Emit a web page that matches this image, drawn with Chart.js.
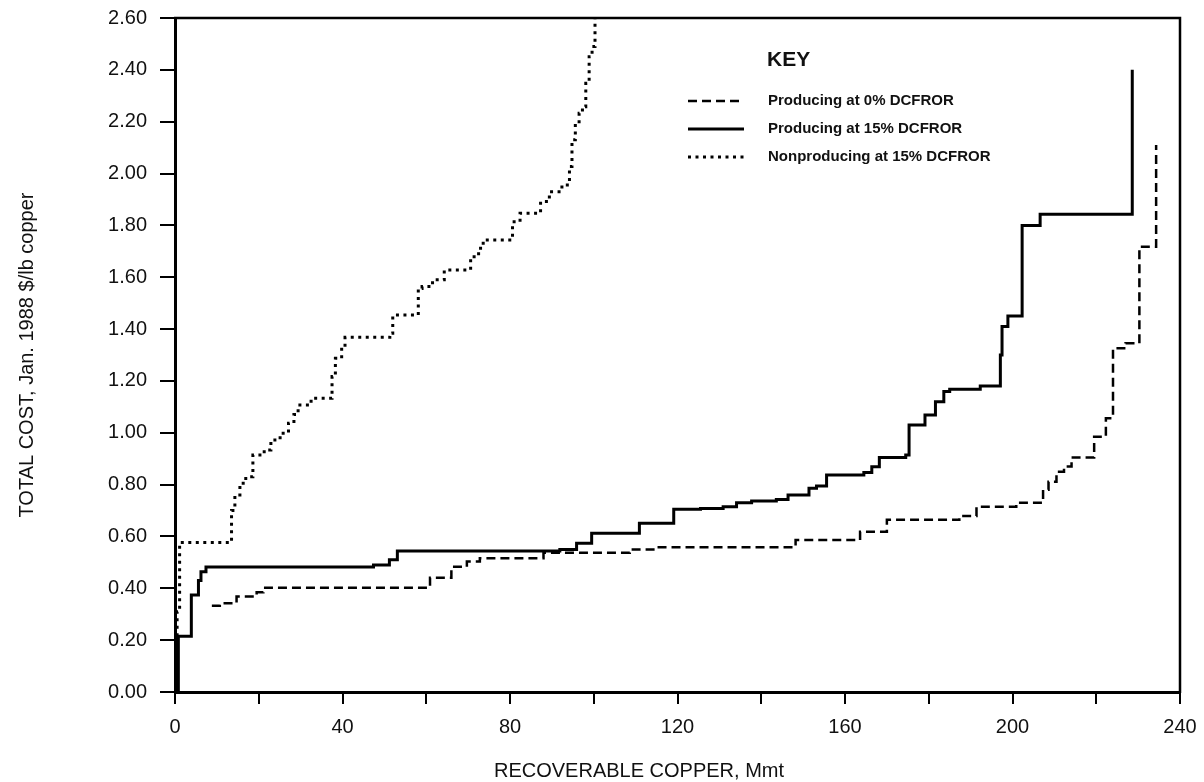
<!DOCTYPE html>
<html>
<head>
<meta charset="utf-8">
<script src="https://cdn.jsdelivr.net/npm/chart.js@4.4.1/dist/chart.umd.min.js"></script>
<style>
  html, body { margin: 0; padding: 0; background: #fff; }
  #wrap { width: 1204px; height: 782px; }
</style>
</head>
<body>
<div id="wrap"><canvas id="c" width="1204" height="782"></canvas></div>
<script>
// ---- data (x = recoverable copper, Mmt; y = total cost, $/lb) ----
const seriesLabels = [
  "Producing at 0% DCFROR",
  "Producing at 15% DCFROR",
  "Nonproducing at 15% DCFROR"
];

const prod0X = [8.8, 10.7, 14.7, 19.5, 21.1, 60.9, 66.0, 69.7, 72.8, 88.0, 108.6, 115.0, 148.2, 163.6, 170.0, 187.3, 191.4, 200.9, 207.3, 208.6, 210.5, 212.3, 214.1, 219.5, 222.3, 224.0, 227.0, 230.3, 234.3];
const prod0Y = [0.333, 0.342, 0.368, 0.385, 0.402, 0.441, 0.483, 0.503, 0.516, 0.537, 0.550, 0.558, 0.586, 0.618, 0.664, 0.679, 0.715, 0.730, 0.780, 0.811, 0.850, 0.870, 0.905, 0.985, 1.056, 1.326, 1.345, 1.718, 2.110];

const prod15X = [0.8, 0.8, 3.9, 5.6, 6.2, 7.4, 47.4, 51.2, 53.1, 91.9, 95.9, 99.5, 110.9, 119.1, 125.5, 130.9, 134.1, 137.7, 143.6, 146.4, 151.4, 153.2, 155.6, 164.5, 166.4, 168.2, 174.5, 175.3, 179.1, 181.6, 183.6, 185.0, 192.3, 197.1, 197.5, 198.9, 202.3, 206.6, 228.6];
const prod15Y = [0.000, 0.215, 0.374, 0.430, 0.464, 0.482, 0.490, 0.510, 0.544, 0.550, 0.574, 0.612, 0.651, 0.705, 0.708, 0.715, 0.730, 0.737, 0.743, 0.760, 0.786, 0.795, 0.837, 0.847, 0.869, 0.905, 0.914, 1.030, 1.069, 1.120, 1.159, 1.168, 1.180, 1.300, 1.410, 1.450, 1.800, 1.843, 2.400];

const nonprodX = [0.2, 0.5, 1.1, 13.5, 14.3, 15.5, 16.9, 18.6, 21.3, 22.9, 25.1, 27.1, 28.4, 29.4, 32.5, 37.5, 38.3, 39.8, 40.6, 51.3, 52.0, 58.1, 59.0, 61.5, 64.3, 70.6, 72.5, 73.6, 80.6, 82.4, 87.3, 89.4, 92.4, 94.2, 94.8, 95.6, 96.5, 97.3, 98.1, 98.9, 99.6, 100.3];
const nonprodY = [0.220, 0.310, 0.577, 0.700, 0.760, 0.805, 0.830, 0.914, 0.934, 0.972, 0.998, 1.037, 1.070, 1.107, 1.133, 1.217, 1.287, 1.330, 1.368, 1.384, 1.454, 1.557, 1.564, 1.590, 1.628, 1.679, 1.712, 1.744, 1.814, 1.847, 1.892, 1.930, 1.956, 2.027, 2.130, 2.194, 2.233, 2.258, 2.348, 2.451, 2.490, 2.600];

const xTickValues = [0, 40, 80, 120, 160, 200, 240];
const yTitle = "TOTAL COST, Jan. 1988 $/lb copper";
const xTitle = "RECOVERABLE COPPER, Mmt";
const legendTitle = "KEY";

const toPts = (xs, ys) => xs.map((x, i) => ({ x: x, y: ys[i] }));

const FONT = "'Liberation Sans', Arial, Helvetica, sans-serif";
const INK = '#111';

const frameAndKey = {
  id: 'frameAndKey',
  afterDraw(chart) {
    const ctx = chart.ctx;
    const a = chart.chartArea;
    ctx.save();
    // top and right frame
    ctx.strokeStyle = '#000';
    ctx.lineWidth = 2.5;
    ctx.setLineDash([]);
    ctx.beginPath();
    ctx.moveTo(a.left - 1, a.top);
    ctx.lineTo(a.right, a.top);
    ctx.lineTo(a.right, a.bottom + 1);
    ctx.stroke();

    // x axis title
    ctx.fillStyle = INK;
    ctx.font = "20px " + FONT;
    ctx.textAlign = 'center';
    ctx.textBaseline = 'middle';
    ctx.fillText(xTitle, 639, 771);

    // key
    ctx.font = "bold 21px " + FONT;
    ctx.textAlign = 'left';
    ctx.fillText(legendTitle, 767, 60);
    ctx.font = "bold 15px " + FONT;
    const rows = [101, 129, 157];
    chart.data.datasets.forEach((ds, i) => {
      const y = rows[i];
      ctx.strokeStyle = '#000';
      ctx.lineWidth = ds.borderWidth;
      ctx.setLineDash(ds.borderDash || []);
      ctx.beginPath();
      ctx.moveTo(688, y);
      ctx.lineTo(744, y);
      ctx.stroke();
      ctx.setLineDash([]);
      ctx.fillStyle = INK;
      ctx.textBaseline = 'middle';
      ctx.fillText(ds.label, 768, y);
    });
    ctx.restore();
  }
};

new Chart(document.getElementById('c'), {
  type: 'line',
  data: {
    datasets: [
      { label: seriesLabels[0], data: toPts(prod0X, prod0Y), borderColor: '#000', borderWidth: 2.5, borderDash: [9, 5], stepped: 'before', pointRadius: 0, fill: false },
      { label: seriesLabels[1], data: toPts(prod15X, prod15Y), borderColor: '#000', borderWidth: 3, borderDash: [], stepped: 'before', pointRadius: 0, fill: false },
      { label: seriesLabels[2], data: toPts(nonprodX, nonprodY), borderColor: '#000', borderWidth: 3, borderDash: [3, 4.5], stepped: 'before', pointRadius: 0, fill: false }
    ]
  },
  options: {
    responsive: false,
    devicePixelRatio: 1,
    animation: false,
    layout: { padding: { left: 0, right: 24, top: 18, bottom: 0 } },
    plugins: { legend: { display: false }, tooltip: { enabled: false } },
    scales: {
      x: {
        type: 'linear',
        min: 0, max: 240,
        afterFit: (s) => { s.height = 90; s.paddingLeft = 0; s.paddingRight = 0; },
        ticks: {
          stepSize: 20, autoSkip: false, maxRotation: 0, padding: 11,
          color: INK, font: { family: FONT, size: 20 },
          callback: (v) => xTickValues.includes(v) ? String(v) : ''
        },
        grid: { drawOnChartArea: false, drawTicks: true, tickLength: 12, tickWidth: 2, tickColor: '#000', color: '#000', lineWidth: 2 },
        border: { display: true, color: '#000', width: 3 }
      },
      y: {
        min: 0, max: 2.6,
        afterFit: (s) => { s.width = 175; s.paddingTop = 0; s.paddingBottom = 0; },
        ticks: {
          stepSize: 0.2, padding: 13,
          color: INK, font: { family: FONT, size: 20 },
          callback: (v) => Number(v).toFixed(2)
        },
        grid: { drawOnChartArea: false, drawTicks: true, tickLength: 15, tickWidth: 2, tickColor: '#000', color: '#000', lineWidth: 2 },
        border: { display: true, color: '#000', width: 3 },
        title: { display: true, text: yTitle, color: INK, font: { family: FONT, size: 20 }, padding: { top: 15, bottom: 0 } }
      }
    }
  },
  plugins: [frameAndKey]
});
</script>
</body>
</html>
